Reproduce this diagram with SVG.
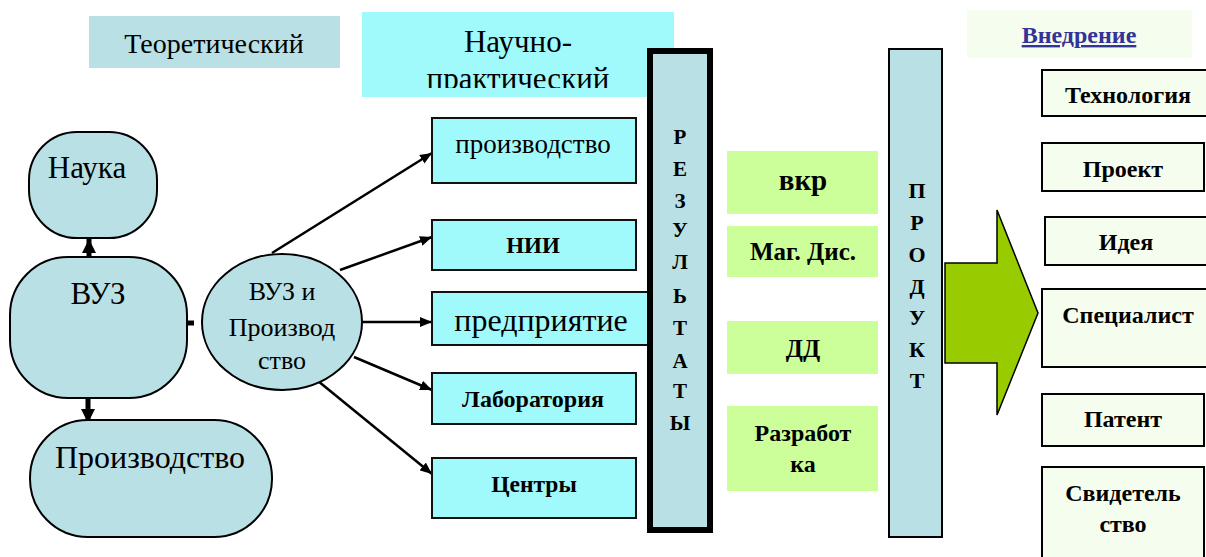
<svg xmlns="http://www.w3.org/2000/svg" width="1206" height="557" viewBox="0 0 1206 557">
<defs>
<style>
.t{font-family:"Liberation Serif","Times New Roman",serif;fill:#000;text-anchor:middle}
.b{font-weight:bold}
.lb{fill:#b9e0e4;stroke:#000;stroke-width:2}
.cy{fill:#a0f9fb;stroke:#111;stroke-width:2}
.gr{fill:#ccff99}
.rt{fill:#f5fdee;stroke:#000;stroke-width:2}
.ln{stroke:#000;stroke-width:2.5;fill:none}
.thick{stroke:#000;stroke-width:5;fill:none}
</style>
<marker id="ah" viewBox="0 0 12 10" refX="12" refY="5" markerWidth="12" markerHeight="10" markerUnits="userSpaceOnUse" orient="auto">
<path d="M0,0 L12,5 L0,10 Z" fill="#000"/>
</marker>
<marker id="ahb" viewBox="0 0 14 14" refX="14" refY="7" markerWidth="14" markerHeight="16" markerUnits="userSpaceOnUse" orient="auto">
<path d="M0,0 L14,7 L0,14 Z" fill="#000"/>
</marker>
<clipPath id="npclip"><rect x="362" y="12" width="312" height="76"/></clipPath>
</defs>

<g id="teor">
<rect x="89" y="16" width="251" height="52" fill="#b9e0e4"/>
<text class="t" x="214" y="53" font-size="28">Теоретический</text>
</g>

<g id="nauchno">
<rect x="362" y="12" width="312" height="85" fill="#a0f9fb"/>
<g clip-path="url(#npclip)">
<text class="t" x="518" y="52" font-size="31">Научно-</text>
<text class="t" x="518" y="89" font-size="31">практический</text>
</g>
</g>

<g id="connectors">
<line class="thick" x1="89" y1="257" x2="89" y2="239" marker-end="url(#ahb)"/>
<line class="thick" x1="88" y1="396" x2="88" y2="423" marker-end="url(#ahb)"/>
<line x1="187" y1="323" x2="194" y2="323" stroke="#000" stroke-width="5"/>
<line class="ln" x1="272" y1="253" x2="432" y2="153" marker-end="url(#ah)"/>
<line class="ln" x1="340" y1="270" x2="432" y2="237" marker-end="url(#ah)"/>
<line class="ln" x1="362" y1="322" x2="432" y2="322" marker-end="url(#ah)"/>
<line class="ln" x1="354" y1="357" x2="432" y2="390" marker-end="url(#ah)"/>
<line class="ln" x1="318" y1="381" x2="432" y2="474" marker-end="url(#ah)"/>
</g>

<g id="nauka">
<rect class="lb" x="29" y="132" width="128" height="106" rx="48" ry="48"/>
<text class="t" x="87" y="178" font-size="31">Наука</text>
</g>

<g id="vuz">
<rect class="lb" x="10" y="257" width="177" height="141" rx="58" ry="58"/>
<text class="t" x="98" y="304" font-size="31">ВУЗ</text>
</g>

<g id="proizvodstvo-main">
<rect class="lb" x="30" y="420" width="242" height="117" rx="58" ry="58"/>
<text class="t" x="150" y="468" font-size="32">Производство</text>
</g>

<g id="vuz-proizv">
<ellipse class="lb" cx="282" cy="322" rx="80" ry="68"/>
<text class="t" x="282" y="300" font-size="26">ВУЗ и</text>
<text class="t" x="282" y="336" font-size="26">Производ</text>
<text class="t" x="282" y="369" font-size="26">ство</text>
</g>

<g id="m-proizvodstvo">
<rect class="cy" x="432" y="118" width="204" height="65"/>
<text class="t" x="533" y="153" font-size="27">производство</text>
</g>
<g id="m-nii">
<rect class="cy" x="432" y="220" width="204" height="50"/>
<text class="t b" x="533" y="253" font-size="23">НИИ</text>
</g>
<g id="m-predpr">
<rect class="cy" x="432" y="292" width="218" height="53"/>
<text class="t" x="541" y="331" font-size="32">предприятие</text>
</g>
<g id="m-lab">
<rect class="cy" x="432" y="373" width="204" height="51"/>
<text class="t b" x="533" y="407" font-size="24">Лаборатория</text>
</g>
<g id="m-centry">
<rect class="cy" x="432" y="458" width="204" height="60"/>
<text class="t b" x="534" y="492" font-size="23.5">Центры</text>
</g>

<g id="rezultaty">
<rect x="650" y="51" width="60" height="479" fill="#b9e0e4" stroke="#000" stroke-width="6"/>
<g class="t b" font-size="21">
<text x="680" y="144">Р</text>
<text x="680" y="176">Е</text>
<text x="680" y="208">З</text>
<text x="680" y="237">У</text>
<text x="680" y="269">Л</text>
<text x="680" y="303">Ь</text>
<text x="680" y="335">Т</text>
<text x="680" y="368">А</text>
<text x="680" y="398">Т</text>
<text x="680" y="430">Ы</text>
</g>
</g>

<g id="g-vkr">
<rect class="gr" x="727" y="151" width="151" height="63"/>
<text class="t b" x="803" y="190" font-size="29">вкр</text>
</g>
<g id="g-mag">
<rect class="gr" x="727" y="226" width="151" height="51"/>
<text class="t b" x="803" y="260" font-size="25">Маг. Дис.</text>
</g>
<g id="g-dd">
<rect class="gr" x="727" y="321" width="151" height="53"/>
<text class="t b" x="803" y="357" font-size="25">ДД</text>
</g>
<g id="g-razrab">
<rect class="gr" x="727" y="406" width="151" height="85"/>
<text class="t b" x="803" y="441" font-size="24">Разработ</text>
<text class="t b" x="803" y="472" font-size="24">ка</text>
</g>

<g id="produkt">
<rect x="889" y="49" width="53" height="488" fill="#b9e0e4" stroke="#000" stroke-width="2"/>
<g class="t b" font-size="22">
<text x="917" y="198">П</text>
<text x="917" y="230">Р</text>
<text x="917" y="262">О</text>
<text x="917" y="294">Д</text>
<text x="917" y="325">У</text>
<text x="917" y="357">К</text>
<text x="917" y="388">Т</text>
</g>
</g>

<g id="big-arrow">
<polygon points="945,263 997,263 997,210 1038,313 997,415 997,363 945,363" fill="#99cc00" stroke="#000" stroke-width="1.5"/>
</g>

<g id="vnedrenie">
<rect x="967" y="10" width="225" height="48" fill="#f5fdee"/>
<text class="t b" x="1079" y="43" font-size="24" style="fill:#333399" text-decoration="underline">Внедрение</text>
</g>

<g id="r-tech">
<rect class="rt" x="1042" y="70" width="166" height="46"/>
<text class="t b" x="1128" y="103" font-size="24">Технология</text>
</g>
<g id="r-proekt">
<rect class="rt" x="1042" y="143" width="162" height="48"/>
<text class="t b" x="1123" y="177" font-size="24">Проект</text>
</g>
<g id="r-ideya">
<rect class="rt" x="1045" y="217" width="163" height="48"/>
<text class="t b" x="1126" y="250" font-size="24">Идея</text>
</g>
<g id="r-spec">
<rect class="rt" x="1042" y="289" width="166" height="78"/>
<text class="t b" x="1128" y="323" font-size="24">Специалист</text>
</g>
<g id="r-patent">
<rect class="rt" x="1042" y="394" width="162" height="52"/>
<text class="t b" x="1123" y="427" font-size="24">Патент</text>
</g>
<g id="r-svid">
<rect class="rt" x="1042" y="467" width="162" height="95"/>
<text class="t b" x="1123" y="501" font-size="24">Свидетель</text>
<text class="t b" x="1123" y="532" font-size="24">ство</text>
</g>
</svg>
